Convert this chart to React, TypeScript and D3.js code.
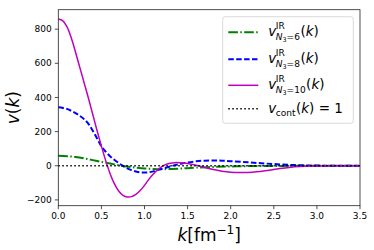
import React, { useEffect, useRef } from 'react';
import * as d3 from 'd3';

// k grid values (fm^-1) and curves
const kN10 = [0, 0.05, 0.1, 0.15, 0.2, 0.25, 0.3, 0.35, 0.4, 0.45, 0.5, 0.55, 0.6, 0.65, 0.7, 0.75, 0.8, 0.85, 0.9, 0.95, 1.0, 1.05, 1.1, 1.15, 1.2, 1.25, 1.3, 1.35, 1.4, 1.5, 1.6, 1.7, 1.8, 1.9, 2.0, 2.1, 2.2, 2.3, 2.4, 2.5, 2.6, 2.7, 2.8, 2.9, 3.0, 3.2, 3.5];
const vN10 = [860, 850, 815, 750, 665, 575, 485, 395, 300, 205, 115, 30, -45, -105, -148, -173, -183, -181, -168, -145, -115, -80, -50, -25, -5, 8, 15, 18, 18, 13, 3, -10, -22, -32, -38, -40, -39, -35, -29, -22, -15, -9, -5, -2, -1, 0, 0];

const kN8 = [0, 0.1, 0.2, 0.25, 0.3, 0.35, 0.4, 0.45, 0.5, 0.55, 0.6, 0.65, 0.7, 0.75, 0.8, 0.85, 0.9, 0.95, 1.0, 1.05, 1.1, 1.2, 1.3, 1.4, 1.5, 1.6, 1.7, 1.8, 1.9, 2.0, 2.2, 2.4, 2.6, 2.8, 3.0, 3.2, 3.5];
const vN8 = [342, 333, 308, 292, 273, 245, 205, 160, 115, 82, 56, 35, 16, -1, -15, -26, -34, -39, -40, -38, -33, -18, -4, 9, 19, 26, 30, 31, 30, 27, 20, 13, 7, 3, 1, 0, 0];

const kN6 = [0, 0.1, 0.2, 0.3, 0.4, 0.5, 0.6, 0.7, 0.8, 0.9, 1.0, 1.1, 1.2, 1.3, 1.4, 1.5, 1.6, 1.8, 2.0, 2.2, 2.5, 3.0, 3.5];
const vN6 = [58, 56, 51, 43, 33, 23, 13, 3, -5, -11, -16, -19, -20, -19, -17, -14, -11, -7, -4, -2, -1, 0, 0];

const xTicks = [0, 0.5, 1.0, 1.5, 2.0, 2.5, 3.0, 3.5];
const yTicks = [-200, 0, 200, 400, 600, 800];
const legendN = ['6', '8', '10'];

const W = 374;
const H = 250;
const margin = { left: 58.3, top: 9.7, right: 14, bottom: 44.3 };

const App: React.FC = () => {
  const svgRef = useRef<SVGSVGElement>(null);

  useEffect(() => {
    if (!svgRef.current) return;
    const svg = d3.select(svgRef.current);
    svg.selectAll('*').remove();

    const x = d3.scaleLinear().domain([0, 3.5]).range([margin.left, W - margin.right]);
    const y = d3.scaleLinear().domain([-234, 914]).range([H - margin.bottom, margin.top]);
    const font = 'DejaVu Sans, sans-serif';

    const line = d3.line<[number, number]>()
      .x(d => x(d[0]))
      .y(d => y(d[1]))
      .curve(d3.curveCatmullRom);

    const series = [
      { k: kN6, v: vN6, color: '#008000', width: 2, dash: '9.6,2.4,1.5,2.4' },
      { k: kN8, v: vN8, color: '#0000ff', width: 2, dash: '5.5,2.4' },
      { k: kN10, v: vN10, color: '#bf00bf', width: 1.5, dash: null as string | null },
    ];

    const plot = svg.append('g');
    series.forEach(s => {
      const pts = s.k.map((k, i) => [k, s.v[i]] as [number, number]);
      plot.append('path')
        .attr('d', line(pts))
        .attr('fill', 'none')
        .attr('stroke', s.color)
        .attr('stroke-width', s.width)
        .attr('stroke-dasharray', s.dash);
    });

    // v_cont reference line
    plot.append('line')
      .attr('x1', x(0)).attr('x2', x(3.5))
      .attr('y1', y(0)).attr('y2', y(0))
      .attr('stroke', '#000')
      .attr('stroke-width', 1.5)
      .attr('stroke-dasharray', '1.5,2.5');

    // frame
    svg.append('rect')
      .attr('x', x(0)).attr('y', margin.top)
      .attr('width', x(3.5) - x(0))
      .attr('height', H - margin.bottom - margin.top)
      .attr('fill', 'none')
      .attr('stroke', '#222')
      .attr('stroke-width', 0.8);

    // x ticks
    const xAxis = svg.append('g');
    xTicks.forEach(t => {
      xAxis.append('line')
        .attr('x1', x(t)).attr('x2', x(t))
        .attr('y1', y(-234)).attr('y2', y(-234) + 3.5)
        .attr('stroke', '#222').attr('stroke-width', 0.8);
      xAxis.append('text')
        .attr('x', x(t)).attr('y', 218.5)
        .attr('text-anchor', 'middle')
        .attr('font-family', font).attr('font-size', 9)
        .attr('fill', '#000')
        .text(t.toFixed(1));
    });

    // y ticks
    const yAxis = svg.append('g');
    yTicks.forEach(t => {
      yAxis.append('line')
        .attr('x1', x(0) - 3.5).attr('x2', x(0))
        .attr('y1', y(t)).attr('y2', y(t))
        .attr('stroke', '#222').attr('stroke-width', 0.8);
      yAxis.append('text')
        .attr('x', x(0) - 6.5).attr('y', y(t))
        .attr('dy', '0.35em')
        .attr('text-anchor', 'end')
        .attr('font-family', font).attr('font-size', 9)
        .attr('fill', '#000')
        .text(t < 0 ? '\u2212' + Math.abs(t) : String(t));
    });

    // axis labels
    const xl = svg.append('text')
      .attr('x', (x(0) + x(3.5)) / 2).attr('y', 241)
      .attr('text-anchor', 'middle')
      .attr('font-family', font).attr('font-size', 17);
    xl.append('tspan').attr('font-style', 'italic').text('k');
    xl.append('tspan').text('[fm');
    xl.append('tspan').attr('font-size', 12).attr('dy', -7).text('\u22121');
    xl.append('tspan').attr('dy', 7).text(']');

    const yl = svg.append('text')
      .attr('transform', `translate(19,${(y(-234) + margin.top) / 2}) rotate(-90)`)
      .attr('text-anchor', 'middle')
      .attr('font-family', font).attr('font-size', 17);
    yl.append('tspan').attr('font-style', 'italic').text('v');
    yl.append('tspan').text('(');
    yl.append('tspan').attr('font-style', 'italic').text('k');
    yl.append('tspan').text(')');

    // legend
    const lg = svg.append('g');
    lg.append('rect')
      .attr('x', 222.7).attr('y', 16.7)
      .attr('width', 130.6).attr('height', 106.6)
      .attr('rx', 2.5)
      .attr('fill', '#fff').attr('fill-opacity', 0.8)
      .attr('stroke', '#d0d0d0').attr('stroke-width', 0.8);

    const rowsY = [32.3, 59.3, 85.3, 108.7];
    const main = 13.5;
    const small = 9;
    const tiny = 6.4;
    const tx = 268.3;

    // width of a text run, measured with a throwaway element
    const measure = (build: (t: d3.Selection<SVGTextElement, unknown, null, undefined>) => void) => {
      const t = svg.append('text').attr('font-family', font).attr('visibility', 'hidden') as unknown as d3.Selection<SVGTextElement, unknown, null, undefined>;
      build(t);
      const w = (t.node() as SVGTextElement).getComputedTextLength();
      t.remove();
      return w;
    };

    const vW = measure(t => t.attr('font-size', main).attr('font-style', 'italic').text('v'));

    const styles = [...series.map(s => ({ color: s.color, width: s.width, dash: s.dash })),
      { color: '#000', width: 1.5, dash: '1.5,2.5' }];

    styles.forEach((s, i) => {
      lg.append('line')
        .attr('x1', 228.3).attr('x2', 258.3)
        .attr('y1', rowsY[i]).attr('y2', rowsY[i])
        .attr('stroke', s.color).attr('stroke-width', s.width)
        .attr('stroke-dasharray', s.dash);
    });

    legendN.forEach((n, i) => {
      const base = rowsY[i] + 3.6;
      const x1 = tx + vW - 0.5;
      const supW = measure(t => t.attr('font-size', small).text('IR'));
      const subW = measure(t => {
        t.attr('font-size', small);
        t.append('tspan').attr('font-style', 'italic').text('N');
        t.append('tspan').attr('font-size', tiny).text('3');
        t.append('tspan').text('=' + n);
      });
      const x2 = x1 + Math.max(supW, subW) + 0.5;

      const txt = lg.append('text').attr('x', tx).attr('y', base)
        .attr('font-family', font).attr('font-size', main);
      txt.append('tspan').attr('font-style', 'italic').text('v');
      txt.append('tspan').attr('x', x1).attr('y', base - 6.6).attr('font-size', small).text('IR');
      txt.append('tspan').attr('x', x1).attr('y', base + 4.2).attr('font-size', small).attr('font-style', 'italic').text('N');
      txt.append('tspan').attr('y', base + 5.8).attr('font-size', tiny).text('3');
      txt.append('tspan').attr('y', base + 4.2).attr('font-size', small).text('=' + n);
      txt.append('tspan').attr('x', x2).attr('y', base).text('(');
      txt.append('tspan').attr('font-style', 'italic').text('k');
      txt.append('tspan').text(')');
    });

    {
      const base = rowsY[3] + 4.4;
      const x1 = tx + vW - 0.5;
      const cW = measure(t => t.attr('font-size', small).text('cont'));
      const txt = lg.append('text').attr('x', tx).attr('y', base)
        .attr('font-family', font).attr('font-size', main);
      txt.append('tspan').attr('font-style', 'italic').text('v');
      txt.append('tspan').attr('x', x1).attr('y', base + 3).attr('font-size', small).text('cont');
      txt.append('tspan').attr('x', x1 + cW + 0.5).attr('y', base).text('(');
      txt.append('tspan').attr('font-style', 'italic').text('k');
      txt.append('tspan').text(') = 1');
    }
  }, []);

  return (
    <svg
      ref={svgRef}
      width={W}
      height={H}
      style={{ position: 'absolute', left: 0, top: 0, background: '#fff' }}
    />
  );
};

export default App;
